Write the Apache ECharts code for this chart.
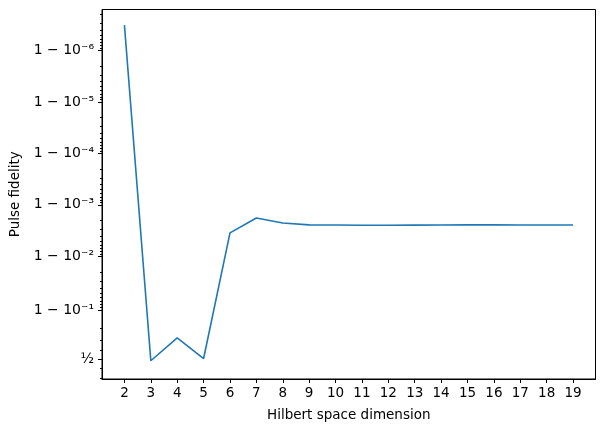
<!DOCTYPE html>
<html><head><meta charset="utf-8">
<script src="https://cdn.jsdelivr.net/npm/echarts@6/dist/echarts.min.js"></script>
<style>html,body{margin:0;padding:0;background:#fff}#c{width:604px;height:432px}</style>
</head><body><div id="c"></div>
<script>
const dims = [2,3,4,5,6,7,8,9,10,11,12,13,14,15,16,17,18,19];
const fidelity = [1-3.2e-7, 0.48, 0.72, 0.505, 1-3.5e-3, 1-1.8e-3, 1-2.25e-3, 1-2.45e-3, 1-2.47e-3, 1-2.5e-3, 1-2.5e-3, 1-2.48e-3, 1-2.47e-3, 1-2.45e-3, 1-2.45e-3, 1-2.46e-3, 1-2.46e-3, 1-2.47e-3];
const majorTicks = [0.5, 1-1e-1, 1-1e-2, 1-1e-3, 1-1e-4, 1-1e-5, 1-1e-6];
const majorLabels = ['½', '1 − 10⁻¹', '1 − 10⁻²', '1 − 10⁻³', '1 − 10⁻⁴', '1 − 10⁻⁵', '1 − 10⁻⁶'];

const logit = p => Math.log10(p/(1-p));
const majorPos = majorTicks.map(logit);
const minorPos = [0.4,0.6,0.7,0.8].map(logit);
for (let k=1;k<=7;k++) for (let m=2;m<=9;m++){ const v=logit(1-m*Math.pow(10,-k)); if (v>-0.39 && v<6.8) minorPos.push(v); }

const chart = echarts.init(document.getElementById('c'));
const font = 'DejaVu Sans';
chart.setOption({
  animation:false,
  grid:{left:99.5, top:9.5, width:496, height:369.5, containLabel:false},
  xAxis:{type:'value', min:1.15, max:19.85, name:'Hilbert space dimension', nameLocation:'middle', nameGap:29,
    nameTextStyle:{fontFamily:font, fontSize:13.5, color:'#000'},
    axisLine:{onZero:false, lineStyle:{color:'#000', width:1}}, splitLine:{show:false},
    axisTick:{customValues:dims, length:4, lineStyle:{color:'#000'}},
    axisLabel:{customValues:dims, fontFamily:font, fontSize:13.5, color:'#000', margin:7}},
  yAxis:[{type:'value', min:-0.39, max:6.8, name:'Pulse fidelity', nameLocation:'middle', nameGap:80,
    nameTextStyle:{fontFamily:font, fontSize:13.5, color:'#000'},
    axisLine:{show:true, onZero:false, lineStyle:{color:'#000', width:1}}, splitLine:{show:false},
    axisTick:{customValues:majorPos, length:4, lineStyle:{color:'#000'}},
    axisLabel:{customValues:majorPos, fontFamily:font, fontSize:14, color:'#000', margin:8,
      formatter:v=>{ let i=majorPos.findIndex(x=>Math.abs(x-v)<1e-6); return i>=0?majorLabels[i]:''; }}},
   {type:'value', min:-0.39, max:6.8, position:'left',
    axisLine:{show:false}, splitLine:{show:false}, axisLabel:{show:false},
    axisTick:{show:true, customValues:minorPos, length:2, lineStyle:{color:'#000'}}}],
  series:[{type:'line', data:dims.map((d,i)=>[d, logit(fidelity[i])]), showSymbol:false,
    lineStyle:{color:'#1f77b4', width:1.6}, itemStyle:{color:'#1f77b4'}},
    {type:'line', data:[], markArea:{silent:true, itemStyle:{color:'transparent', borderColor:'#000', borderWidth:1},
      data:[[{coord:[1.15,-0.39]},{coord:[19.85,6.8]}]]}}]
});
</script></body></html>
